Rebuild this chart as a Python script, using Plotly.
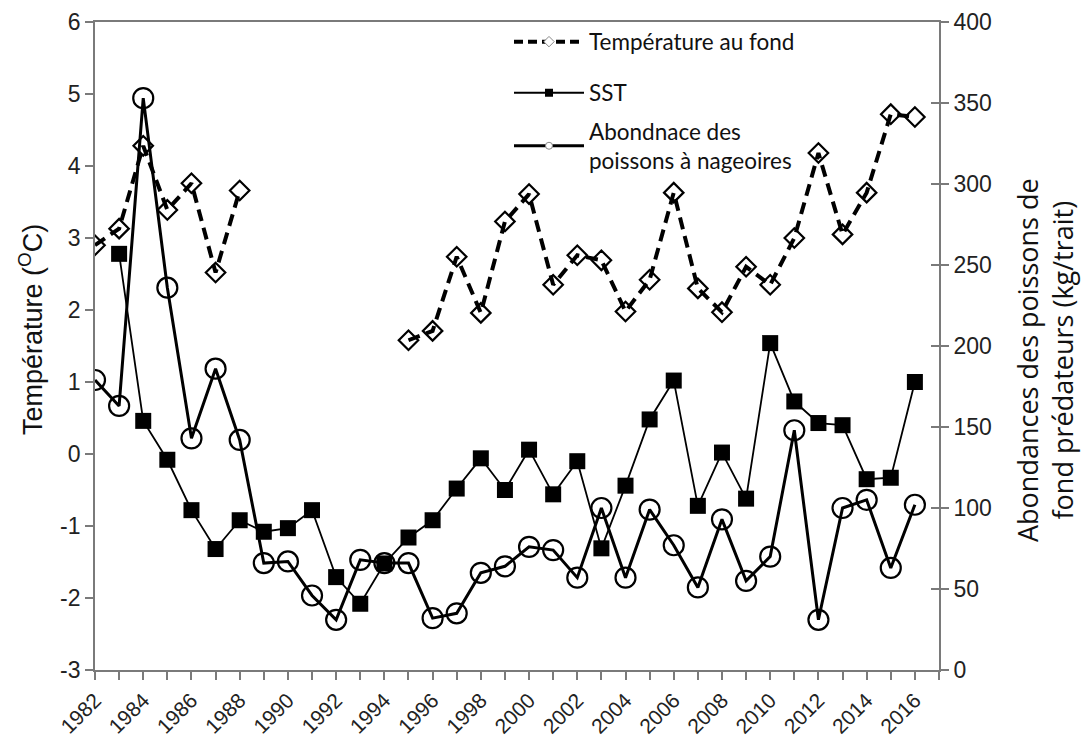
import plotly.graph_objects as go

years = list(range(1982, 2017))
bottom_temp = [2.90, 3.13, 4.28, 3.39, 3.76, 2.52, 3.66,
               None, None, None, None, None, None,
               1.58, 1.71, 2.74, 1.96, 3.23, 3.61, 2.35, 2.76, 2.69, 1.98,
               2.42, 3.63, 2.30, 1.97, 2.60, 2.35, 3.00, 4.18, 3.05, 3.63, 4.72, 4.68]
sst = [None, 2.78, 0.46, -0.08, -0.78, -1.32, -0.92, -1.08, -1.03, -0.78,
       -1.71, -2.08, -1.52, -1.16, -0.92, -0.48, -0.06, -0.50, 0.06, -0.56,
       -0.10, -1.31, -0.44, 0.48, 1.02, -0.72, 0.02, -0.62, 1.54, 0.73,
       0.43, 0.40, -0.35, -0.33, 1.00]
abundance = [179, 163, 353, 236, 143, 186, 142, 66, 67, 46, 31, 68, 66, 66, 32,
             35, 60, 64, 76, 74, 57, 100, 57, 99, 77, 51, 93, 55, 70, 148,
             31, 100, 105, 63, 102]

temp_ticks = [-3, -2, -1, 0, 1, 2, 3, 4, 5, 6]
temp_labels = ["-3", "-2", "-1", "0", "1", "2", "3", "4", "5", "6"]
abund_ticks = [0, 50, 100, 150, 200, 250, 300, 350, 400]
year_ticks = list(range(1982, 2017, 2))
year_labels = [str(y) for y in year_ticks]

name_bt = "Température au fond"
name_sst = "SST"
name_ab = "Abondnace des<br>poissons à nageoires"
title_left = "Température (<sup>O</sup>C)"
title_right = "Abondances des poissons de<br>fond prédateurs (kg/trait)"

AX = "#7a7a7a"
TICKFONT = dict(family="Liberation Sans, Arial", size=23, color="#222")
XTICKFONT = dict(family="Liberation Sans, Arial", size=21, color="#222")
LEGFONT = dict(family="Lato", size=22.5, color="#111")

fig = go.Figure()

fig.add_trace(go.Scatter(
    x=years, y=bottom_temp, mode="lines+markers", name=name_bt,
    line=dict(color="black", width=4, dash="12px,7px"),
    marker=dict(symbol="diamond-open", size=15, color="black", line=dict(width=2.2)),
    connectgaps=False, showlegend=False, yaxis="y"))

fig.add_trace(go.Scatter(
    x=years, y=sst, mode="lines+markers", name=name_sst,
    line=dict(color="black", width=1.8),
    marker=dict(symbol="square", size=16, color="black"),
    showlegend=False, yaxis="y"))

fig.add_trace(go.Scatter(
    x=years, y=abundance, mode="lines+markers", name=name_ab,
    line=dict(color="black", width=3),
    marker=dict(symbol="circle-open", size=20, color="black", line=dict(width=2.2)),
    showlegend=False, yaxis="y2"))

# legend-only entries (small symbols like the reference legend)
fig.add_trace(go.Scatter(
    x=[None], y=[None], mode="lines+markers", name=name_bt, legend="legend",
    line=dict(color="black", width=4, dash="9px,5px"),
    marker=dict(symbol="diamond", size=8, color="white", line=dict(color="#888", width=1))))
fig.add_trace(go.Scatter(
    x=[None], y=[None], mode="lines+markers", name=name_sst, legend="legend2",
    line=dict(color="black", width=2),
    marker=dict(symbol="square", size=8, color="black")))
fig.add_trace(go.Scatter(
    x=[None], y=[None], mode="lines+markers", name=name_ab, legend="legend3",
    line=dict(color="black", width=3),
    marker=dict(symbol="circle", size=7, color="white", line=dict(color="#888", width=1))))

fig.add_trace(go.Scatter(x=[None], y=[None], yaxis="y3", showlegend=False,
                         hoverinfo="skip"))

L, R, T, B = 95, 145, 22, 70
W, H = 1084, 740
pw, ph = W - L - R, H - T - B

def px(xp):
    return (xp - L) / pw

def py(yp):
    return (H - B - yp) / ph

leg_common = dict(font=LEGFONT, bgcolor="rgba(0,0,0,0)", borderwidth=0,
                  xanchor="left", yanchor="middle", itemwidth=70,
                  itemclick=False, itemdoubleclick=False)

fig.update_layout(
    width=W, height=H,
    margin=dict(l=L, r=R, t=T, b=B, autoexpand=False),
    paper_bgcolor="white", plot_bgcolor="white",
    xaxis=dict(range=[1982, 2017], tickmode="array", tickvals=year_ticks,
               ticktext=year_labels, ticks="outside", ticklen=8,
               tickcolor=AX, tickwidth=1.5, showline=True, linecolor=AX, linewidth=1.8,
               mirror=True, showgrid=False, zeroline=False, tickangle=-45,
               tickfont=XTICKFONT,
               minor=dict(dtick=1, tick0=1982, ticks="outside", ticklen=8,
                          tickcolor=AX, tickwidth=1.5, showgrid=False)),
    yaxis=dict(range=[-3, 6], tickmode="array", tickvals=temp_ticks, ticktext=temp_labels,
               ticks="outside", ticklen=8, tickcolor=AX,
               tickwidth=1.5, showline=True, linecolor=AX, linewidth=1.8,
               showgrid=False, zeroline=False, tickfont=TICKFONT),
    yaxis2=dict(range=[0, 400], tickmode="array", tickvals=abund_ticks,
                overlaying="y", side="right", anchor="x",
                ticks="outside", ticklen=8, tickcolor=AX, tickwidth=1.5,
                showline=True, linecolor=AX, linewidth=1.8, showgrid=False,
                zeroline=False, tickfont=TICKFONT),
    yaxis3=dict(range=[0, 400], tickmode="array", tickvals=abund_ticks,
                overlaying="y", side="right", anchor="x",
                ticks="inside", ticklen=8, tickcolor=AX, tickwidth=1.5,
                showline=False, showgrid=False, zeroline=False, showticklabels=False),
    legend=dict(x=px(509), y=py(42), **leg_common),
    legend2=dict(x=px(509), y=py(93), **leg_common),
    legend3=dict(x=px(509), y=py(146), **leg_common),
    showlegend=True,
    annotations=[
        dict(text=title_left, xref="paper", yref="paper", x=px(31), y=py(330),
             xanchor="center", yanchor="middle", textangle=-90, showarrow=False,
             font=dict(family="Liberation Sans, Arial", size=27, color="#111")),
        dict(text=title_right, xref="paper", yref="paper", x=px(1045), y=py(360),
             xanchor="center", yanchor="middle", textangle=-90, showarrow=False,
             font=dict(family="Open Sans", size=27, color="#111")),
    ],
)

fig.write_html("out.html")
